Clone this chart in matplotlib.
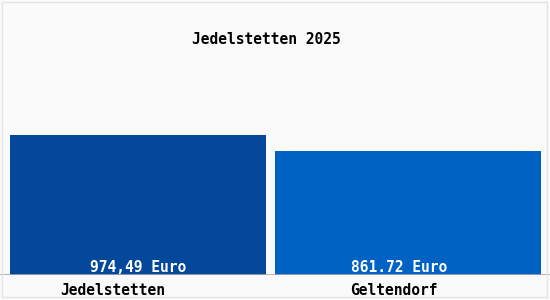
import matplotlib
matplotlib.use("Agg")
from matplotlib import pyplot as plt
import matplotlib.transforms as mtransforms

TITLE = "Jedelstetten 2025"
places = ["Jedelstetten", "Geltendorf"]
values = [974.49, 861.72]
value_labels = ["974,49 Euro", "861.72 Euro"]
bar_colors = ["#03489a", "#0062c2"]

FONT = "DejaVu Sans Mono"

fig = plt.figure(figsize=(5.5, 3.0), dpi=100, facecolor="#fafafa")
ax = fig.add_axes([0, 25 / 300, 1, 275 / 300])
ax.set_facecolor("#fafafa")

pos = [0, 1]
ax.bar(pos, values, width=[0.948, 0.985], color=bar_colors, zorder=2)
ax.set_xlim(-0.511, 1.526)
ax.set_ylim(0, values[0] * 275 / 140)

# grey baseline
ax.axhline(0, color="#a8a8a8", lw=1.2, zorder=3)

for spine in ax.spines.values():
    spine.set_visible(False)
ax.set_yticks([])

# category labels sit a bit left of bar centres in the original
ax.set_xticks([p - d for p, d in zip(pos, [0.093, 0.052])])
ax.set_xticklabels(places, fontfamily=FONT, fontsize=10.5, fontweight="bold")
ax.tick_params(axis="x", length=0, pad=6)

shift = [0, -9]
for p, v, lab, s in zip(pos, values, value_labels, shift):
    tr = ax.transData + mtransforms.ScaledTranslation(s / 100, 0, fig.dpi_scale_trans)
    ax.text(p, 0, lab, transform=tr, ha="center", va="bottom", color="white",
            fontfamily=FONT, fontsize=10.5, fontweight="bold", zorder=4)

fig.text(266 / 550, 1 - 40 / 300, TITLE, ha="center", va="center",
         fontfamily=FONT, fontsize=10.5, fontweight="bold", color="black")

# light frame around the picture
frame = plt.Rectangle((2 / 550, 3 / 300), 545 / 550, 295 / 300, transform=fig.transFigure,
                      fill=False, edgecolor="#e4e4e4", lw=1)
fig.patches.append(frame)

fig.savefig("out.png", dpi=100, facecolor=fig.get_facecolor())
